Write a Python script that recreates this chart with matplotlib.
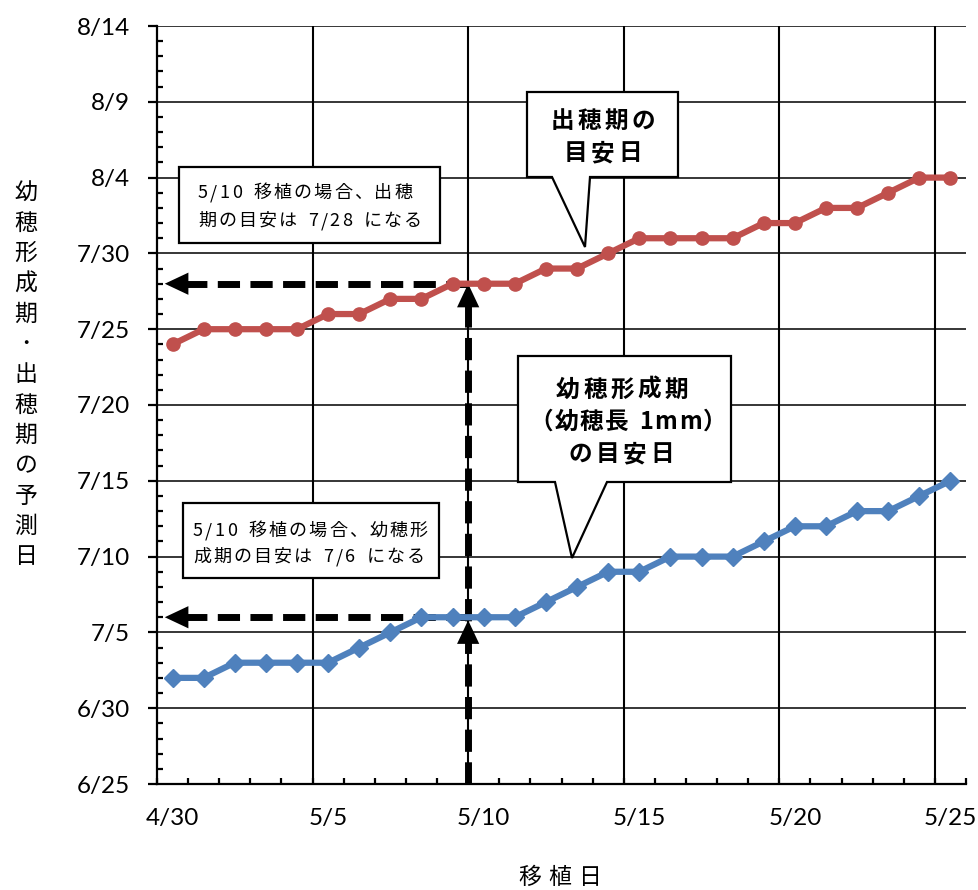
import datetime as dt
import matplotlib
matplotlib.use("Agg")
import matplotlib.pyplot as plt
import matplotlib.dates as mdates
from matplotlib.patches import Polygon
from matplotlib.ticker import FixedLocator, NullFormatter

# ---- data -------------------------------------------------------------
transplant_dates = ["4/30", "5/1", "5/2", "5/3", "5/4", "5/5", "5/6", "5/7", "5/8",
                    "5/9", "5/10", "5/11", "5/12", "5/13", "5/14", "5/15", "5/16",
                    "5/17", "5/18", "5/19", "5/20", "5/21", "5/22", "5/23", "5/24", "5/25"]

heading_dates = ["7/24", "7/25", "7/25", "7/25", "7/25", "7/26", "7/26", "7/27", "7/27",
                 "7/28", "7/28", "7/28", "7/29", "7/29", "7/30", "7/31", "7/31", "7/31",
                 "7/31", "8/1", "8/1", "8/2", "8/2", "8/3", "8/4", "8/4"]

panicle_dates = ["7/2", "7/2", "7/3", "7/3", "7/3", "7/3", "7/4", "7/5", "7/6", "7/6",
                 "7/6", "7/6", "7/7", "7/8", "7/9", "7/9", "7/10", "7/10", "7/10",
                 "7/11", "7/12", "7/12", "7/13", "7/13", "7/14", "7/15"]

x_tick_labels = ["4/30", "5/5", "5/10", "5/15", "5/20", "5/25"]
y_tick_labels = ["6/25", "6/30", "7/5", "7/10", "7/15", "7/20", "7/25", "7/30",
                 "8/4", "8/9", "8/14"]

example_transplant = "5/10"
example_heading = "7/28"
example_panicle = "7/6"

YEAR = 2024
RED = "#C0504D"
BLUE = "#4F81BD"
JP = ["Noto Sans CJK JP", "DejaVu Sans"]
NUM = ["Lato", "DejaVu Sans"]


def to_num(s):
    m, d = (int(v) for v in s.split("/"))
    return mdates.date2num(dt.date(YEAR, m, d))


W, H, DPI = 979, 890, 100
fig = plt.figure(figsize=(W / DPI, H / DPI), dpi=DPI)
fig.patch.set_facecolor("white")


def px(x, y):
    return x / W, 1 - y / H


ax = fig.add_axes([157 / W, 1 - 784 / H, (966 - 157) / W, (784 - 26) / H])

xs = list(range(len(transplant_dates)))
ax.set_xlim(-0.5, len(transplant_dates) - 0.5)
y_ticks = [to_num(s) for s in y_tick_labels]
ax.set_ylim(y_ticks[0], y_ticks[-1])

# series
ax.plot(xs, [to_num(s) for s in heading_dates], color=RED, lw=4.5, marker="o",
        markersize=9.5, zorder=3, solid_capstyle="round")
ax.plot(xs, [to_num(s) for s in panicle_dates], color=BLUE, lw=4.5, marker="D",
        markersize=9, zorder=3, solid_capstyle="round")

# axes styling
for side in ("top", "right"):
    ax.spines[side].set_visible(False)
for side in ("left", "bottom"):
    ax.spines[side].set_linewidth(1.6)
    ax.spines[side].set_zorder(5)

ax.yaxis.set_major_locator(FixedLocator(y_ticks))
ax.set_yticklabels(y_tick_labels, fontfamily=NUM, fontsize=17.5)
ax.yaxis.set_minor_locator(FixedLocator(
    [v for v in range(int(y_ticks[0]), int(y_ticks[-1]) + 1) if v not in y_ticks]))
ax.tick_params(axis="y", which="major", direction="out", length=6.5, width=1.6, pad=13)
ax.tick_params(axis="y", which="minor", direction="in", length=4.5, width=1.6)
ax.grid(axis="y", which="major", color="black", lw=1.1, zorder=1)

label_pos = [transplant_dates.index(s) for s in x_tick_labels]
ax.set_xticks(label_pos)
ax.set_xticklabels(x_tick_labels, fontfamily=NUM, fontsize=17.5)
ax.tick_params(axis="x", which="major", length=0, pad=17)
bounds = [i - 0.5 for i in range(len(transplant_dates) + 1)]
ax.xaxis.set_minor_locator(FixedLocator(bounds))
ax.xaxis.set_minor_formatter(NullFormatter())
ax.tick_params(axis="x", which="minor", direction="in", length=4.5, width=1.6)
for p in label_pos[1:]:
    ax.axvline(p - 0.5, color="black", lw=1.5, zorder=1)

# dashed guide arrows
gx = transplant_dates.index(example_transplant) - 0.5
yh = to_num(example_heading)
yp = to_num(example_panicle)
dash_kw = dict(color="black", lw=5, dashes=(3.2, 1.5), zorder=2.5, solid_capstyle="butt",
               dash_capstyle="butt")
head_kw = dict(arrowstyle="-|>,head_length=1.7,head_width=0.8", mutation_scale=10,
               color="black", lw=0, shrinkA=0, shrinkB=0)
for yv in (yh, yp):
    ax.plot([gx, 0.35], [yv, yv], **dash_kw)
    ax.annotate("", xy=(-0.25, yv), xytext=(22, 0), textcoords="offset points",
                arrowprops=head_kw, zorder=2.6)
ax.plot([gx, gx], [y_ticks[0], yh - 1.2], **dash_kw)
ax.annotate("", xy=(gx, yp - 0.2), xytext=(0, -22), textcoords="offset points",
            arrowprops=head_kw, zorder=2.6)
ax.annotate("", xy=(gx, yh), xytext=(0, -22), textcoords="offset points",
            arrowprops=head_kw, zorder=2.6)

# ---- text helpers -----------------------------------------------------
renderer = fig.canvas.get_renderer()


def tracked(x, y, s, size, track, ha="left", space=None, **kw):
    widths = []
    for ch in s:
        if ch == " ":
            widths.append(space if space is not None else size * 0.35)
            continue
        t = fig.text(0, 0, ch, fontsize=size, **kw)
        widths.append(t.get_window_extent(renderer).width)
        t.remove()
    total = sum(widths) + track * (len(s) - 1)
    cur = x - total / 2 if ha == "center" else x
    for ch, w in zip(s, widths):
        if ch != " ":
            fig.text(*px(cur, y), ch, fontsize=size, ha="left", va="center",
                     zorder=6, **kw)
        cur += w + track


def box(points):
    fig.add_artist(Polygon([px(x, y) for x, y in points], closed=True,
                           transform=fig.transFigure, facecolor="white",
                           edgecolor="black", lw=1.6, zorder=5))


# axis titles
ylabel = "幼穂形成期･出穂期の予測日"
for i, ch in enumerate(ylabel):
    fig.text(*px(26, 193 + i * 30.33), ch, fontsize=16.5, family=JP,
             ha="center", va="center")
for i, ch in enumerate("移植日"):
    fig.text(*px(530 + i * 30, 877), ch, fontsize=16.5, family=JP,
             ha="center", va="center")

# note boxes
box([(179, 167), (440, 167), (440, 243), (179, 243)])
tracked(198, 193, f"{example_transplant} 移植の場合、出穂", 13, 2.2, space=7, family=JP)
tracked(198, 221, f"期の目安は {example_heading} になる", 13, 2.2, space=7, family=JP)

box([(183, 503), (439, 503), (439, 578), (183, 578)])
tracked(193, 531, f"{example_transplant} 移植の場合、幼穂形", 13, 2.2, space=7, family=JP)
tracked(193, 557, f"成期の目安は {example_panicle} になる", 13, 2.2, space=7, family=JP)

# callouts
box([(527, 92), (678, 92), (678, 177), (590, 177), (585, 247), (552, 177), (527, 177)])
tracked(603, 121, "出穂期の", 17, 3.5, ha="center", family=JP, weight="bold")
tracked(603, 153, "目安日", 17, 3.5, ha="center", family=JP, weight="bold")

box([(518, 356), (731, 356), (731, 482), (607, 482), (572, 558), (555, 482), (518, 482)])
tracked(622, 390, "幼穂形成期", 17, 3.5, ha="center", family=JP, weight="bold")
tracked(628, 422, "（幼穂長 1mm）", 17, 1.5, ha="center", space=8, family=JP, weight="bold")
tracked(621, 454, "の目安日", 17, 3.5, ha="center", family=JP, weight="bold")

fig.savefig("out.png", dpi=DPI)
